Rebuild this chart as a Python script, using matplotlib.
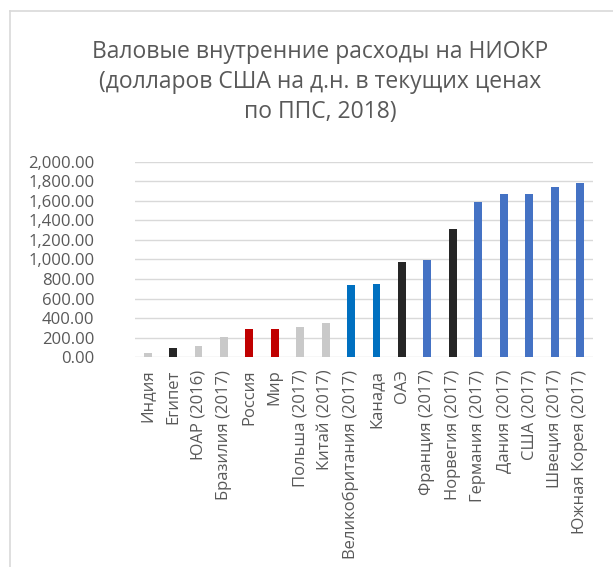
import matplotlib.pyplot as plt
from matplotlib.lines import Line2D
from matplotlib.ticker import FuncFormatter

plt.rcParams['font.family'] = ['Open Sans', 'DejaVu Sans']

countries = ['Индия', 'Египет', 'ЮАР (2016)', 'Бразилия (2017)', 'Россия', 'Мир',
             'Польша (2017)', 'Китай (2017)', 'Великобритания (2017)', 'Канада', 'ОАЭ',
             'Франция (2017)', 'Норвегия (2017)', 'Германия (2017)', 'Дания (2017)',
             'США (2017)', 'Швеция (2017)', 'Южная Корея (2017)']
values = [44, 95, 119, 208, 290, 290, 310, 351, 739, 750, 974, 998, 1312,
          1591, 1673, 1673, 1738, 1782]
colors = ['#C9C9C9', '#262626', '#C9C9C9', '#C9C9C9', '#C00000', '#C00000',
          '#C9C9C9', '#C9C9C9', '#0070C0', '#0070C0', '#262626', '#4472C4',
          '#262626', '#4472C4', '#4472C4', '#4472C4', '#4472C4', '#4472C4']

fig = plt.figure(figsize=(6.13, 5.67), dpi=100)
ax = fig.add_axes([0.220, 0.370, 0.747, 0.345])

x = range(len(countries))
ax.bar(x, values, width=0.31, color=colors, zorder=3)

ax.set_xlim(-0.5, len(countries) - 0.5)
ax.set_ylim(0, 2000)
ax.set_yticks(range(0, 2001, 200))
ax.yaxis.set_major_formatter(FuncFormatter(lambda v, p: f'{v:,.2f}'))
ax.set_xticks(list(x))
ax.set_xticklabels(countries, rotation=90, va='top', ha='center')
ax.tick_params(axis='both', length=0, labelsize=12, colors='#595959')
ax.tick_params(axis='y', pad=29)
ax.tick_params(axis='x', pad=9)
ax.grid(axis='y', color='#D9D9D9', linewidth=1, zorder=0)
for s in ax.spines.values():
    s.set_visible(False)

fig.text(0.522, 1 - 82 / 567, 'Валовые внутренние расходы на НИОКР\n'
         '(долларов США на д.н. в текущих ценах\nпо ППС, 2018)',
         ha='center', va='center', fontsize=16.5, color='#595959', linespacing=1.35)

# chart area border
fig.add_artist(Line2D([10 / 613, 1], [1 - 11 / 567, 1 - 11 / 567], color='#D9D9D9', lw=1.2))
fig.add_artist(Line2D([10 / 613, 10 / 613], [0, 1 - 11 / 567], color='#D9D9D9', lw=1.2))

plt.savefig('out.png')
plt.close()
